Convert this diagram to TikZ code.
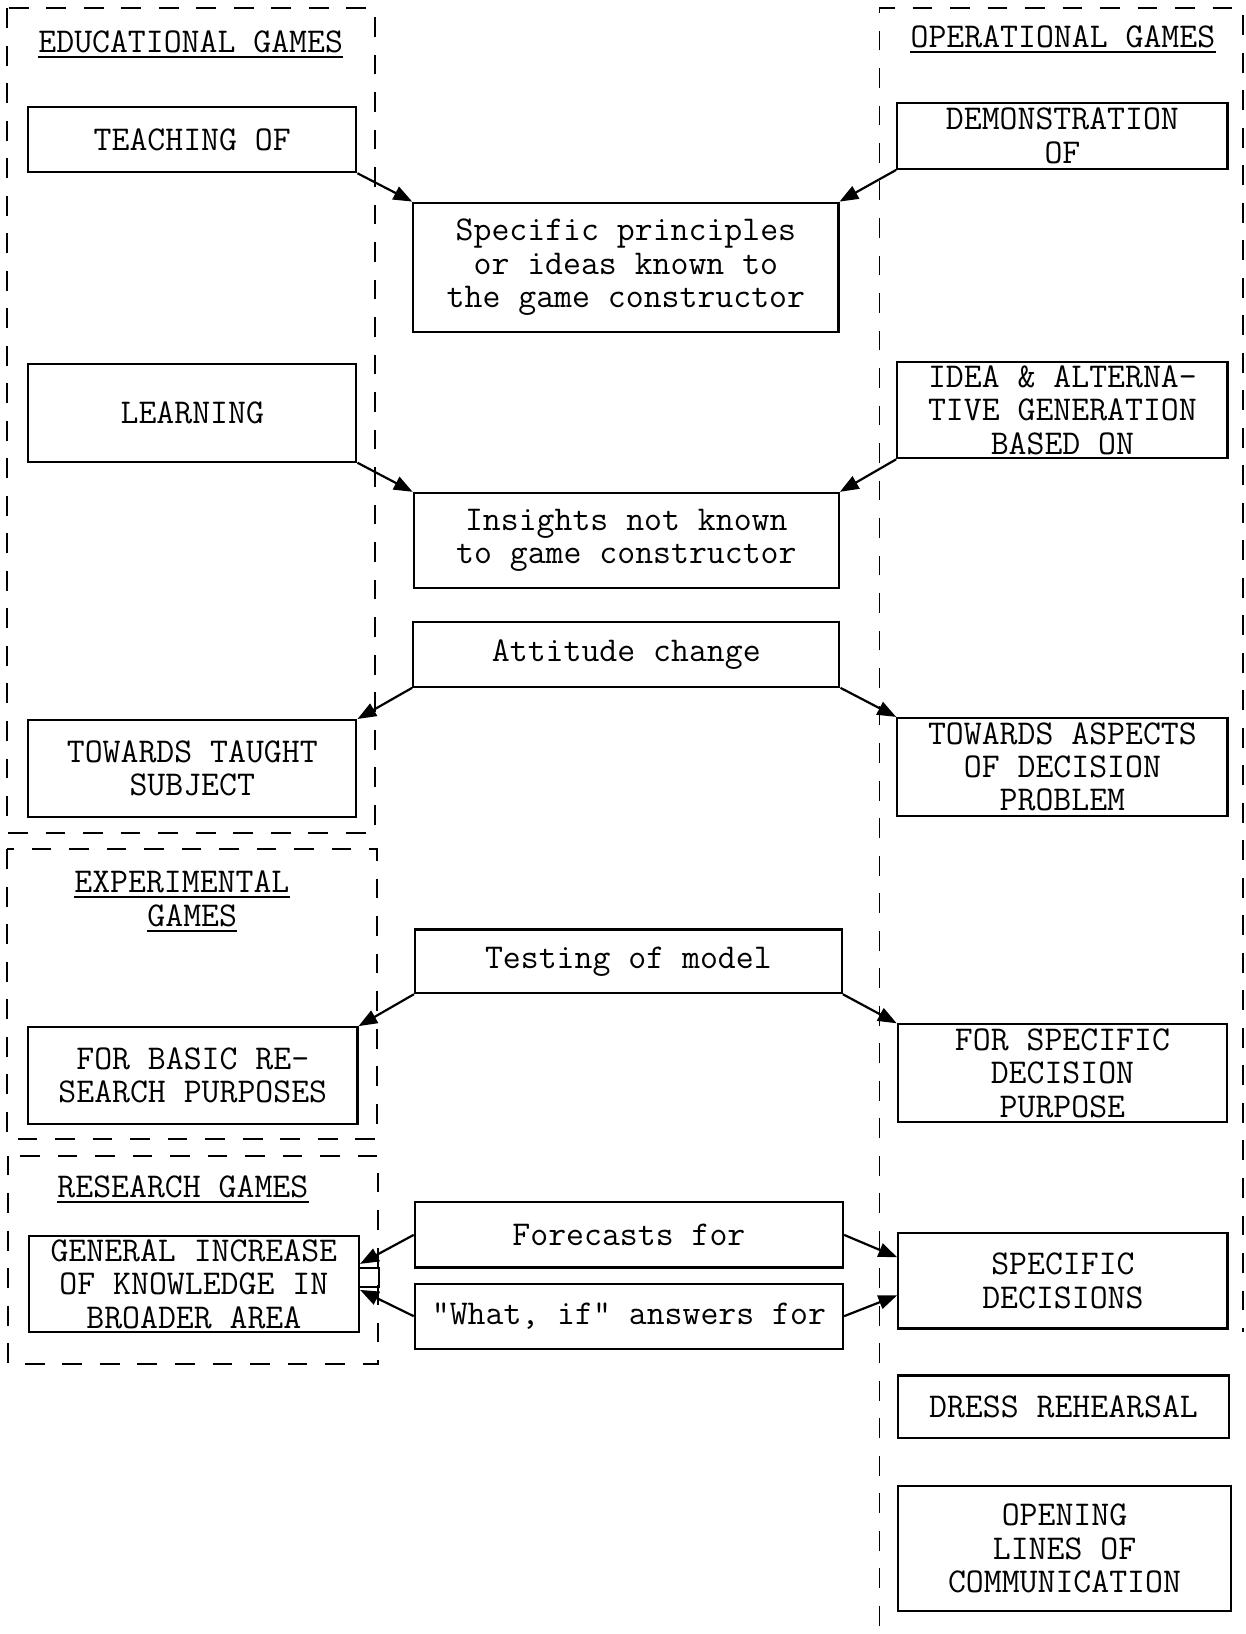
\documentclass[tikz,border=0pt]{standalone}
\usepackage{tikz}
\usetikzlibrary{arrows.meta}

\begin{document}
\begin{tikzpicture}[x=0.02cm, y=-0.02cm,
        font=\ttfamily\fontsize{19}{18.2}\selectfont,
        gamebox/.style={draw, line width=1.2pt, align=center, inner sep=0pt},
        gametitle/.style={anchor=south, inner xsep=0pt, inner ysep=0.08cm, text depth=0pt},
        frameline/.style={line width=1pt, dash pattern=on 0.38cm off 0.34cm},
        link/.style={line width=1.2pt, -{Triangle[length=0.36cm, width=0.27cm]}}]
    \useasboundingbox (0,0) rectangle (1195,1568);

    % The dashed frames
    \draw[frameline] (7,8) rectangle (360,799);
    \draw[frameline] (7,815) rectangle (362,1093);
    \draw[frameline] (8,1109) rectangle (363,1309);
    \draw[frameline] (844,1560) -- (844,8) -- (1193,8) -- (1193,1278);

    % Place the titles
    \node[gametitle] (edu) at (183,55) {EDUCATIONAL GAMES};
    \node[gametitle] (oper) at (1020,50) {OPERATIONAL GAMES};
    \node[gametitle] (expa) at (174.5,861) {EXPERIMENTAL};
    \node[gametitle] (expb) at (184.5,893.6) {GAMES};
    \node[gametitle] (res) at (175.5,1153.5) {RESEARCH GAMES};
    \draw[line width=1pt] (edu.south west) -- (edu.south east);
    \draw[line width=1pt] (oper.south west) -- (oper.south east);
    \draw[line width=1pt] (expa.south west) -- (expa.south east);
    \draw[line width=1pt] (expb.south west) -- (expb.south east);
    \draw[line width=1pt] (res.south west) -- (res.south east);

    % Place the left nodes
    \node[gamebox, minimum width=6.30cm, minimum height=1.25cm] (teach) at (184.5,134) {TEACHING OF};
    \node[gamebox, minimum width=6.30cm, minimum height=1.88cm] (learn) at (184.5,396) {LEARNING};
    \node[gamebox, minimum width=6.30cm, minimum height=1.86cm] (towt) at (184.5,737.5) {TOWARDS TAUGHT\\SUBJECT};
    \node[gamebox, minimum width=6.32cm, minimum height=1.85cm] (basic) at (185,1032) {FOR BASIC RE-\\SEARCH PURPOSES};
    \node[gamebox, minimum width=6.34cm, minimum height=1.85cm] (gen) at (186,1232.3) {GENERAL INCREASE\\OF KNOWLEDGE IN\\BROADER AREA};
    \draw[line width=1pt] (344.5,1217) rectangle (363.5,1235);

    % Place the middle nodes
    \node[gamebox, minimum width=8.16cm, minimum height=2.48cm] (spec) at (600.6,256.5) {Specific principles\\or ideas known to\\the game constructor};
    \node[gamebox, minimum width=8.16cm, minimum height=1.82cm] (ins) at (601,518.5) {Insights not known\\to game constructor};
    \node[gamebox, minimum width=8.18cm, minimum height=1.24cm] (att) at (601,628) {Attitude change};
    \node[gamebox, minimum width=8.19cm, minimum height=1.22cm] (test) at (603,922.5) {Testing of model};
    \node[gamebox, minimum width=8.22cm, minimum height=1.25cm] (fore) at (603.5,1185) {Forecasts for};
    \node[gamebox, minimum width=8.22cm, minimum height=1.25cm] (whatif) at (603.5,1263) {"What, if" answers for};

    % Place the right nodes
    \node[gamebox, minimum width=6.34cm, minimum height=1.26cm] (demo) at (1019.5,130.5) {DEMONSTRATION\\OF};
    \node[gamebox, minimum width=6.34cm, minimum height=1.84cm] (idea) at (1019.5,393.7) {IDEA \& ALTERNA-\\TIVE GENERATION\\BASED ON};
    \node[gamebox, minimum width=6.34cm, minimum height=1.88cm] (towa) at (1019.5,736) {TOWARDS ASPECTS\\OF DECISION\\PROBLEM};
    \node[gamebox, minimum width=6.32cm, minimum height=1.88cm] (fspec) at (1019.5,1030) {FOR SPECIFIC\\DECISION\\PURPOSE};
    \node[gamebox, minimum width=6.32cm, minimum height=1.83cm] (sdec) at (1020,1229) {SPECIFIC\\DECISIONS};
    \node[gamebox, minimum width=6.34cm, minimum height=1.20cm] (dress) at (1020.5,1350) {DRESS REHEARSAL};
    \node[gamebox, minimum width=6.38cm, minimum height=2.39cm] (open) at (1021.5,1486) {OPENING\\LINES OF\\COMMUNICATION};

    % The arrows
    \draw[link] (teach.south east) -- (spec.north west);
    \draw[link] (demo.south west) -- (spec.north east);
    \draw[link] (learn.south east) -- (ins.north west);
    \draw[link] (idea.south west) -- (ins.north east);
    \draw[link] (att.south west) -- (towt.north east);
    \draw[link] (att.south east) -- (towa.north west);
    \draw[link] (test.south west) -- (basic.north east);
    \draw[link] (test.south east) -- (fspec.north west);
    \draw[link] (fore.west) -- ([yshift=0.39cm]gen.east);
    \draw[link] (whatif.west) -- ([yshift=-0.11cm]gen.east);
    \draw[link] (fore.east) -- ([yshift=0.45cm]sdec.west);
    \draw[link] (whatif.east) -- ([yshift=-0.28cm]sdec.west);
\end{tikzpicture}
\end{document}
